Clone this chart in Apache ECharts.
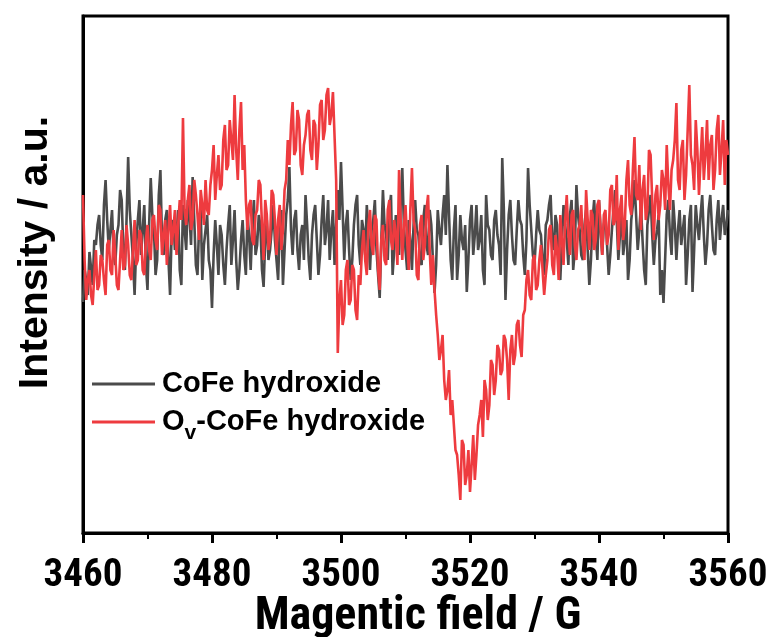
<!DOCTYPE html>
<html>
<head>
<meta charset="utf-8">
<title>EPR spectra</title>
<script src="https://cdn.jsdelivr.net/npm/echarts@6/dist/echarts.min.js"></script>
<style>
  html, body { margin: 0; padding: 0; background: #fff; }
  #chart { width: 771px; height: 637px; }
</style>
</head>
<body>
<div id="chart"></div>
<script>
// Magnetic field sweep: 3460–3560 G, one reading every 0.25 G
const fieldStart = 3460;
const fieldStep = 0.25;
const fieldTicks = [3460, 3480, 3500, 3520, 3540, 3560];

const seriesNames = ['CoFe hydroxide', 'Ov-CoFe hydroxide'];

// EPR intensity (a.u.) of CoFe hydroxide
const cofe = [
  -62, -30, -40, -55, -12, -28, -45, 0, -5, 15, 25, -5, -20, 35, 60, 20, -10, 10, 30, -15,
  -25, 5, 15, 50, 40, -10, -30, 20, 83, 30, 5, -20, -55, -5, 20, 40, -15, 10, 35, -25,
  -50, 15, 62, 25, 10, -35, -20, 45, 70, 0, -15, 20, 30, -20, -55, 10, 20, -10, 5, 30,
  -30, -45, 35, 10, -10, 40, 25, -5, 63, 20, -25, -35, 15, 30, -40, -5, 10, 25, -20, -30,
  -68, -15, 20, -5, -35, 15, 5, -25, -45, -10, 15, 35, -25, 0, 30, -20, -50, -30, 0, 20,
  -15, -35, 25, 5, -30, 15, 40, -15, -5, 25, 15, -30, -47, 0, 20, -20, -10, 10, 35, 0,
  -20, -40, 10, 30, -45, -10, 25, 40, 73, 10, -15, 20, 30, -10, -30, 5, 15, -20, 45, 15,
  -20, -40, 5, 25, 35, 0, -35, -15, 20, 45, -5, 10, 40, -20, 10, 30, -25, 15, 50, 20,
  78, 30, -20, 15, 30, -10, -40, -20, 15, 35, 45, -5, -25, 20, 10, -15, 35, 5, -30, 10,
  20, 40, -10, -35, -58, 0, 50, 15, 5, -20, 30, 45, -35, -10, 25, 5, -15, 35, 72, 15,
  -10, -30, 20, 0, -30, 15, 40, 10, 5, -20, -25, 20, 35, -5, -15, 30, 15, -20, -53, -25,
  30, 10, -5, 25, 45, 5, 75, 25, -20, -40, 10, 35, -40, -15, 25, 0, -10, 15, -52, -20,
  20, 35, -15, 5, 35, -10, 0, 25, -30, -45, 45, 15, 10, -15, -20, 20, 30, 5, -5, -35,
  82, 30, -60, -10, 25, 40, 5, -20, -25, 10, 40, 20, 15, -15, -35, 0, 72, 35, 10, -15,
  -25, 5, 30, 10, 5, -20, -35, 15, 20, 35, 45, 0, -10, 25, 15, -25, -40, 0, 35, 15,
  0, -25, 25, 40, -30, -10, 55, 25, 10, -15, -20, 15, 30, -10, -45, -20, 20, 40, 5, -20,
  40, 10, -15, 15, 25, -5, -35, -15, 10, 30, 50, 20, -20, 5, 30, -15, 0, 20, -40, -20,
  20, 35, 60, 25, -10, 10, 35, 0, -30, -45, 15, 30, 45, 5, -25, 0, 10, 25, -55, -30,
  -63, -20, 25, 40, 5, -15, 40, 15, -20, 10, 30, -5, 10, 25, -45, -15, 20, 35, -52, -10,
  35, 15, 0, 25, 45, 5, -25, -5, 30, 45, 15, -10, -15, 20, 40, 0, 20, 35, 5, 15, 30
];

// EPR intensity (a.u.) of Ov-CoFe hydroxide
const ovCofe = [
  45, -20, -60, -40, -30, -55, -65, -35, -10, -50, -45, -15, -20, -40, -55, -5, 0, -30, -35, 10,
  -15, -45, -50, -20, 10, -30, -25, 15, -5, -35, -40, -10, 20, -25, -20, 10, 5, -30, -35, 0,
  15, -10, -20, 20, 25, 0, -10, 35, 30, -15, 5, 20, -25, 10, 35, -5, 10, 30, -15, 15,
  40, 20, 122, 30, 15, 40, 55, 10, 20, 60, 45, 25, 0, 50, 35, 15, 60, 30, 25, 55,
  70, 95, 40, 65, 85, 50, 55, 100, 115, 70, 75, 120, 100, 80, 145, 90, 60, 110, 138, 70,
  95, 40, 10, 35, 40, 0, -5, 25, 30, 60, 55, 15, -20, 40, 25, -10, 0, 50, 45, 20,
  -15, 20, 35, -10, 10, 50, 60, 100, 75, 115, 138, 85, 90, 130, 120, 75, 65, 95, 105, 125,
  130, 90, 80, 120, 115, 70, 95, 135, 140, 100, 110, 145, 152, 115, 125, 148, 150, 60, -113, -60,
  -40, -85, -75, -30, -20, -65, -60, -25, -30, -70, -80, -35, -45, -10, 10, -20, -35, 15, 30, -5,
  -15, 25, 20, -30, -50, 0, 15, -20, -25, 30, 40, 0, -10, 20, 5, -25, 70, 20, -20, 15,
  35, 0, -30, 30, 72, 20, 10, -35, -40, 15, 25, -20, -5, 30, 45, -10, -45, -15, -50, -75,
  -95, -120, -110, -95, -140, -160, -150, -130, -175, -160, -185, -210, -215, -235, -260, -200, -205, -245, -235, -210,
  -252, -225, -195, -240, -215, -185, -175, -160, -197, -140, -150, -180, -165, -120, -125, -155, -140, -105, -110, -135,
  -130, -95, -100, -120, -160, -110, -95, -125, -115, -85, -80, -105, -117, -75, -70, -40, -30, -55, -60, -20,
  -15, -50, -45, -20, -5, -30, -55, -35, -20, 10, 15, -25, -35, 5, -10, -40, 25, 0, -25, 20,
  45, 5, -15, 25, 30, -5, -20, 10, 15, 35, -5, -20, 50, 20, -10, 30, 25, -10, 0, 35,
  40, 10, -15, 25, 30, -5, 5, 50, 55, 15, 20, 65, -10, 30, 45, 0, 15, 60, 80, 35,
  25, 70, 103, 45, 40, 75, 10, 50, 65, 20, 30, 90, 85, 40, 0, 45, 55, 20, 35, 70,
  60, 30, 95, 55, 30, 70, 80, 100, 137, 60, 50, 90, 100, 40, 65, 110, 155, 85, 75, 50,
  120, 90, 45, 80, 113, 60, 85, 120, 60, 95, 105, 50, 70, 110, 125, 65, 90, 120, 55, 100, 85
];

function toPairs(values) {
  return values.map((v, i) => [fieldStart + fieldStep * i, v]);
}

const narrowFont = "'Liberation Sans Narrow', 'Arial Narrow', 'Roboto Condensed', 'Liberation Sans', sans-serif";
const boldFont = "'Liberation Sans', Arial, sans-serif";

const chart = echarts.init(document.getElementById('chart'), null, { renderer: 'canvas' });

chart.setOption({
  animation: false,
  backgroundColor: '#ffffff',
  grid: {
    left: 83, right: 43, top: 16, bottom: 104,
    outerBoundsMode: 'none', containLabel: false,
    show: true, borderColor: '#000', borderWidth: 3, backgroundColor: 'transparent'
  },
  legend: {
    orient: 'vertical',
    left: 92, top: 369, padding: 0,
    itemWidth: 63, itemHeight: 3, itemGap: 1,
    icon: 'rect',
    data: seriesNames,
    formatter: function (name) {
      return name === 'Ov-CoFe hydroxide' ? 'O{sub|v}-CoFe hydroxide' : name;
    },
    textStyle: {
      fontFamily: boldFont, fontWeight: 'bold', fontSize: 29, color: '#000',
      lineHeight: 30, padding: [0, 0, 0, 2],
      rich: {
        sub: { fontFamily: boldFont, fontWeight: 'bold', fontSize: 21, color: '#000',
               verticalAlign: 'bottom', lineHeight: 44 }
      }
    }
  },
  xAxis: {
    type: 'value',
    min: fieldTicks[0], max: fieldTicks[fieldTicks.length - 1], interval: 20,
    name: 'Magentic field / G',
    nameLocation: 'middle', nameGap: 61, nameMoveOverlap: false,
    nameTextStyle: { fontFamily: narrowFont, fontWeight: 'bold', fontSize: 46, color: '#000',
                     padding: [0, 0, 0, 25] },
    axisLine: { onZero: false, lineStyle: { color: '#000', width: 3 } },
    axisTick: { show: true, inside: false, length: 10, lineStyle: { color: '#000', width: 3 } },
    minorTick: { show: true, splitNumber: 2, length: 6, lineStyle: { color: '#000', width: 2 } },
    axisLabel: { fontFamily: narrowFont, fontWeight: 'bold', fontSize: 39, color: '#000', margin: 24,
                 formatter: function (v) { return String(v); } },
    splitLine: { show: false }
  },
  yAxis: {
    type: 'value',
    min: -293, max: 224,
    name: 'Intensity / a.u.',
    nameLocation: 'middle', nameGap: 27, nameRotate: 90, nameMoveOverlap: false,
    nameTextStyle: { fontFamily: boldFont, fontWeight: 'bold', fontSize: 41, color: '#000',
                     padding: [0, 0, 0, 44] },
    axisLine: { show: true, onZero: false, lineStyle: { color: '#000', width: 3 } },
    axisTick: { show: false },
    axisLabel: { show: false },
    splitLine: { show: false }
  },
  series: [
    {
      name: seriesNames[0], type: 'line', showSymbol: false, z: 2,
      data: toPairs(cofe),
      itemStyle: { color: '#4b4b4b' },
      lineStyle: { color: '#4b4b4b', width: 2.6 }
    },
    {
      name: seriesNames[1], type: 'line', showSymbol: false, z: 3,
      data: toPairs(ovCofe),
      itemStyle: { color: '#ee3b3f' },
      lineStyle: { color: '#ee3b3f', width: 2.6 }
    }
  ]
});
</script>
</body>
</html>
